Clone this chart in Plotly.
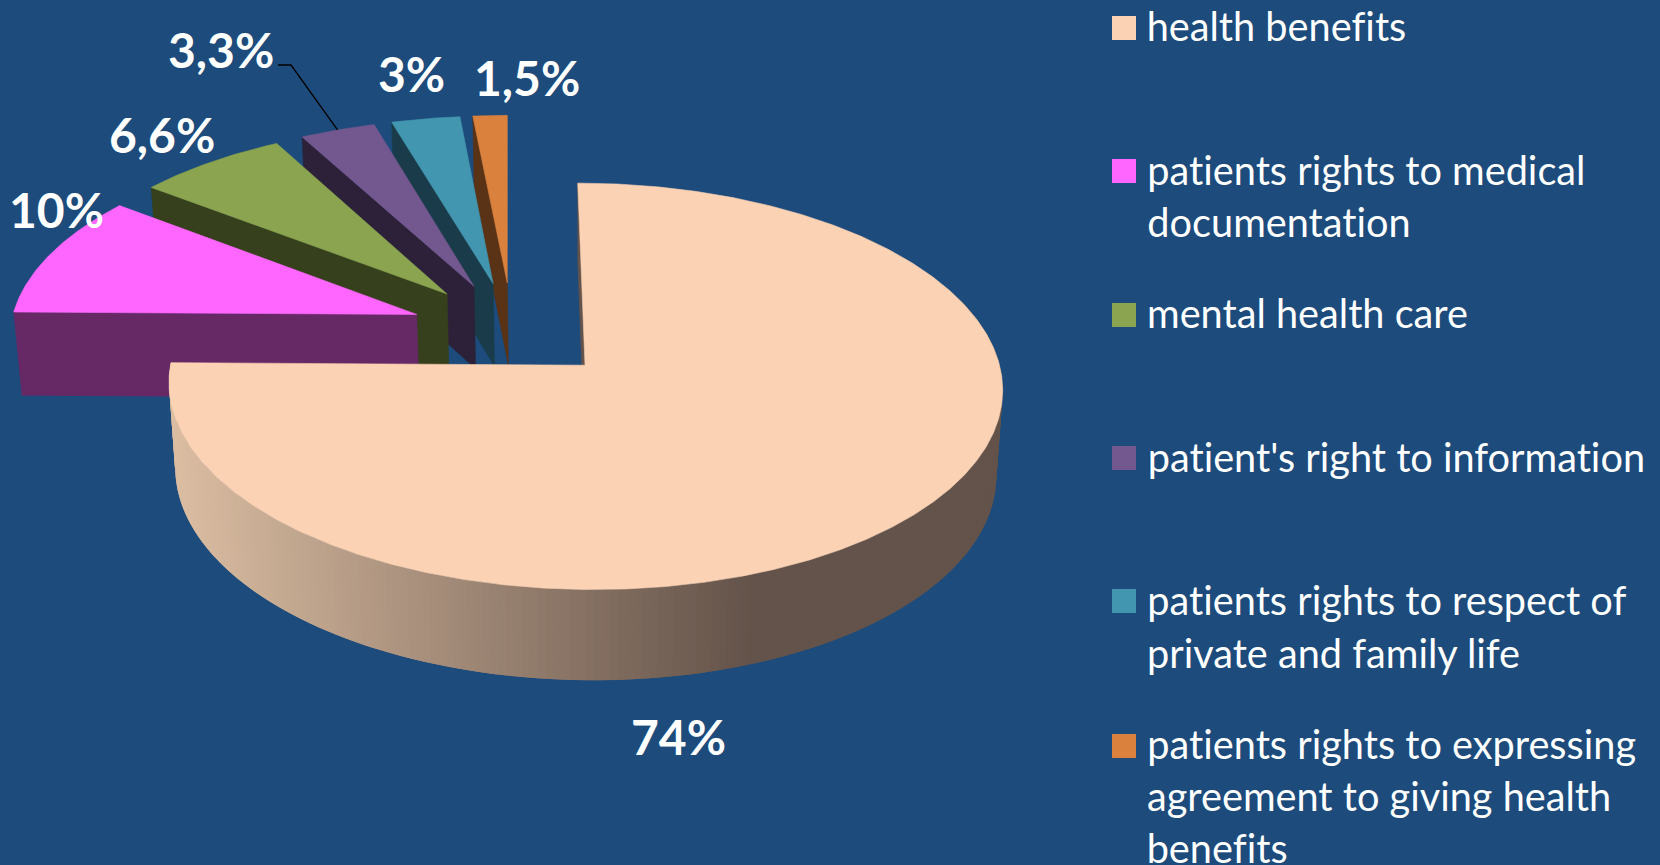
import numpy as np
import plotly.graph_objects as go

# ---- data ----
categories = ["health benefits", "patients rights to medical documentation", "mental health care",
              "patient's right to information", "patients rights to respect of private and family life",
              "patients rights to expressing agreement to giving health benefits"]
values = [74, 10, 6.6, 3.3, 3, 1.5]
value_labels = ["74%", "10%", "6,6%", "3,3%", "3%", "1,5%"]
legend_lines = [["health benefits"],
                ["patients rights to medical", "documentation"],
                ["mental health care"],
                ["patient's right to information"],
                ["patients rights to respect of", "private and family life"],
                ["patients rights to expressing", "agreement to giving health", "benefits"]]
top_colors = ["#FBD2B3", "#FF66FF", "#8AA44F", "#72588F", "#4296AF", "#D9813D"]
wall_colors = ["#64534A", "#662966", "#37401D", "#2C2139", "#1A3C4A", "#5A3316"]

# ---- layout constants (page pixels) ----
BG = "#1C4B7C"
W, H = 1660, 865
CX, CY = 585.0, 365.2      # projected position of the main slice's apex
A, B = 414.5, 201.0        # projection scale of the disc
SKEW = 8.0                 # horizontal shear of the view
PERSP_Y, PERSP_Z = 0.104, 0.015
DEPTH = 86.0               # thickness of the pie
EXPLODE = 0.25
START_DEG = 0.0
label_pos = [(678, 736), (56, 209), (162, 134), (221, 49), (411, 73), (527, 77)]
legend_rows = [[25], [169, 221], [312], [456], [599, 652], [743, 795, 847]]
swatch_y = [28, 171, 315, 458, 601, 746]


def project(x, y, z=0.0):
    w = 1 + PERSP_Y * y + PERSP_Z * z
    return CX + (A * x - SKEW * y) / w, CY + (-B * y + DEPTH * z) / w


total = sum(values)
spans = [v / total * 360 for v in values]
starts = START_DEG + np.concatenate([[0], np.cumsum(spans)[:-1]])
mids = starts + np.array(spans) / 2
m0 = np.radians(mids[0])
origin = (-EXPLODE * np.sin(m0), -EXPLODE * np.cos(m0))


def apex(i):
    t = np.radians(mids[i])
    return origin[0] + EXPLODE * np.sin(t), origin[1] + EXPLODE * np.cos(t)


def rim(i, deg):
    ax, ay = apex(i)
    t = np.radians(deg)
    return ax + np.sin(t), ay + np.cos(t)


def poly(pts):
    xs, ys = zip(*pts)
    return list(xs) + [xs[0]], list(ys) + [ys[0]]


fig = go.Figure()


def add_poly(pts, color, lw=0.6):
    xs, ys = poly(pts)
    fig.add_trace(go.Scatter(x=xs, y=ys, mode="lines", fill="toself", fillcolor=color,
                             line=dict(color=color, width=lw), hoverinfo="skip", showlegend=False))


def top_polygon(i):
    a = apex(i)
    degs = np.linspace(starts[i], starts[i] + spans[i], max(int(spans[i] * 2), 8))
    return [project(*a)] + [project(*rim(i, d)) for d in degs]


def lerp_color(t):
    c0, c1 = np.array([0xDB, 0xBD, 0xA2]), np.array([0x64, 0x53, 0x4A])
    c = c0 + (c1 - c0) * np.clip(t, 0, 1)
    return "rgb(%d,%d,%d)" % tuple(c)


# exploded slices, back to front
for i in range(len(values) - 1, 0, -1):
    a = apex(i)
    r = rim(i, starts[i])
    add_poly([project(*r), project(*a), project(*a, 1), project(*r, 1)], wall_colors[i])
    add_poly(top_polygon(i), top_colors[i])

# main slice: cut face, rim wall strips, top
a0 = apex(0)
r0 = rim(0, starts[0])
add_poly([project(*r0), project(*a0), project(*a0, 1), project(*r0, 1)], wall_colors[0])
end0 = starts[0] + spans[0]
strip_edges = np.arange(70, end0 + 1.0, 1.0)
strip_edges[-1] = end0
for d0, d1 in zip(strip_edges[:-1], strip_edges[1:]):
    d1x = min(d1 + 1.0, end0)  # overlap the next strip so no seams show
    p0, p1, pm = rim(0, d0), rim(0, d1x), rim(0, d1)
    px = (project(*p0)[0] + project(*pm)[0]) / 2
    add_poly([project(*p0), project(*p1), project(*p1, 1), project(*p0, 1)],
             lerp_color((175 - px) / -578), lw=0)
add_poly(top_polygon(0), top_colors[0])

# leader line of the 3,3% label
rim3 = project(*rim(3, mids[3]))
fig.add_trace(go.Scatter(x=[278, 291, rim3[0]], y=[65, 65, rim3[1]], mode="lines",
                         line=dict(color="black", width=1.3), hoverinfo="skip", showlegend=False))

ann = []
for txt, (x, y) in zip(value_labels, label_pos):
    ann.append(dict(x=x, y=y, text=txt, showarrow=False, xanchor="center", yanchor="middle",
                    font=dict(family="Lato", size=48, color="white", weight="bold")))
for lines, rows in zip(legend_lines, legend_rows):
    for txt, y in zip(lines, rows):
        ann.append(dict(x=1145, y=y, text=txt, showarrow=False, xanchor="left", yanchor="middle",
                        font=dict(family="Lato", size=39.7, color="white")))

shapes = [dict(type="rect", xref="x", yref="y", x0=1112, x1=1136, y0=y - 12, y1=y + 12,
               fillcolor=c, line=dict(width=0), layer="above")
          for y, c in zip(swatch_y, top_colors)]

fig.update_layout(width=W, height=H, margin=dict(l=0, r=0, t=0, b=0), autosize=False,
                  paper_bgcolor=BG, plot_bgcolor=BG, showlegend=False,
                  annotations=ann, shapes=shapes,
                  xaxis=dict(range=[0, W], visible=False, fixedrange=True),
                  yaxis=dict(range=[H, 0], visible=False, fixedrange=True))
post = ("document.body.style.margin='0';document.body.style.background='%s';"
        "var s=document.createElement('style');"
        "s.textContent='svg text{font-variant-ligatures:none !important;"
        "font-feature-settings:\"liga\" 0,\"clig\" 0 !important;"
        "text-rendering:optimizeSpeed !important}';document.head.appendChild(s);" % BG)
fig.write_html("out.html", config={"displayModeBar": False}, post_script=post)
